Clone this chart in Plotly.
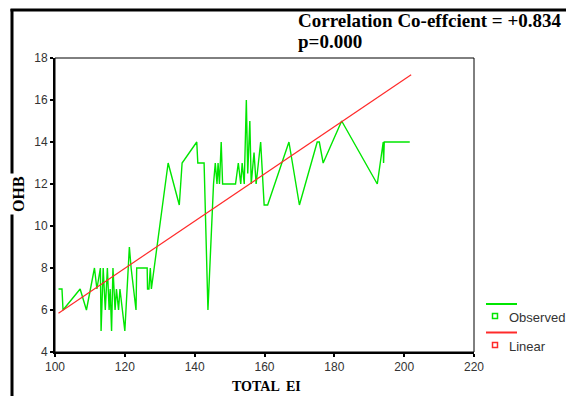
import plotly.graph_objects as go

# Observed series (TOTAL EI vs OHB)
total_ei = [101, 102, 102.3, 107.2, 109, 111.3, 112, 113, 113.2, 113.8, 114.4, 115, 115.5,
            115.8, 116.2, 116.6, 117.2, 117.6, 118.2, 118.6, 120, 121.3, 121.8, 123.2, 123.4,
            126.4, 126.5, 126.9, 127.3, 127.6, 132.4, 135.6, 136.4, 140.6, 140.9, 142.7, 143.8,
            145.4, 145.9, 146.4, 146.7, 147.1, 147.6, 148, 151.7, 152.5, 153.2, 153.6, 154.2,
            154.8, 155.2, 155.8, 156.2, 157, 157.6, 158.9, 159.9, 160.9, 167, 170, 175.1,
            175.7, 176.8, 182.1, 192.3, 194, 194.1, 194.3, 201.6]
ohb = [7, 7, 6, 7, 6, 8, 7, 8, 5, 8, 6, 8, 6,
       7, 5, 8, 6, 7, 6, 7, 5, 9, 8, 6, 8,
       8, 7, 7, 8, 7, 13, 11, 13, 14, 13, 13, 6,
       12, 13, 12, 13, 12, 14, 12, 12, 13, 12, 13, 12,
       16, 12.5, 15, 12, 13.5, 12, 14, 11, 11, 14, 11, 14,
       14, 13, 15, 12, 14, 13, 14, 14]

# Linear fit line end points
linear_x = [101, 202]
linear_y = [5.85, 17.2]

x_ticks = [100, 120, 140, 160, 180, 200, 220]
y_ticks = [4, 6, 8, 10, 12, 14, 16, 18]

GREEN = "#00e600"
RED = "#ff2a2a"

fig = go.Figure()
fig.add_trace(go.Scatter(x=total_ei, y=ohb, mode="lines", name="Observed",
                         line=dict(color=GREEN, width=1.4), showlegend=False))
fig.add_trace(go.Scatter(x=linear_x, y=linear_y, mode="lines", name="Linear",
                         line=dict(color=RED, width=1.2), showlegend=False))

# page has an 8px body margin: figure is shifted by OFF px
OFF = 8
W, H = 574 - OFF, 396 - OFF
L, T = 55 - OFF, 58 - OFF
R = W - (474 - OFF)
B = H - (352 - OFF)
pw, ph = W - L - R, H - T - B


def px(xpix):
    return (xpix - OFF - L) / pw


def py(ypix):
    return (H - B - (ypix - OFF)) / ph


axis_common = dict(showgrid=False, zeroline=False, showline=True, linecolor="black",
                   linewidth=2, ticks="outside", ticklen=3, tickwidth=2, tickcolor="black",
                   tickfont=dict(family="Liberation Sans, Arial", size=12, color="#333333"))

fig.update_layout(
    width=W, height=H,
    margin=dict(l=L, r=R, t=T, b=B),
    paper_bgcolor="white", plot_bgcolor="white",
    xaxis=dict(range=[100, 220], tickvals=x_ticks, **axis_common),
    yaxis=dict(range=[4, 18], tickvals=y_ticks, **axis_common),
    showlegend=False,
)

shapes = [
    # plot box
    dict(type="rect", xref="paper", yref="paper", x0=0, x1=1, y0=0, y1=1,
         line=dict(color="black", width=1)),
    # outer frame (left and top)
    dict(type="line", xref="paper", yref="paper", x0=px(12), x1=px(12), y0=py(9), y1=py(410),
         line=dict(color="black", width=3)),
    dict(type="line", xref="paper", yref="paper", x0=px(10.5), x1=px(590), y0=py(10), y1=py(10),
         line=dict(color="black", width=3)),
    # legend
    dict(type="line", xref="paper", yref="paper", x0=px(486), x1=px(517), y0=py(304), y1=py(304),
         line=dict(color=GREEN, width=2)),
    dict(type="rect", xref="paper", yref="paper", x0=px(492.5), x1=px(497.5), y0=py(313.5), y1=py(318.5),
         line=dict(color=GREEN, width=1.5)),
    dict(type="line", xref="paper", yref="paper", x0=px(486), x1=px(517), y0=py(332.5), y1=py(332.5),
         line=dict(color=RED, width=2)),
    dict(type="rect", xref="paper", yref="paper", x0=px(492.5), x1=px(497.5), y0=py(342.5), y1=py(347.5),
         line=dict(color=RED, width=1.5)),
]
fig.update_layout(shapes=shapes)

serif = "Liberation Serif, Times New Roman, serif"
annotations = [
    dict(text="<b>Correlation Co-effcient = +0.834</b>", xref="paper", yref="paper",
         x=px(296), y=py(20), xanchor="left", yanchor="middle", showarrow=False,
         font=dict(family=serif, size=19, color="black")),
    dict(text="<b>p=0.000</b>", xref="paper", yref="paper",
         x=px(296), y=py(42), xanchor="left", yanchor="middle", showarrow=False,
         font=dict(family=serif, size=19, color="black")),
    dict(text="<b>TOTAL  EI</b>", xref="paper", yref="paper",
         x=px(266), y=py(386), xanchor="center", yanchor="middle", showarrow=False,
         font=dict(family=serif, size=14, color="black")),
    dict(text="<b>OHB</b>", xref="paper", yref="paper", textangle=-90,
         x=px(18), y=py(194), xanchor="center", yanchor="middle", showarrow=False,
         bgcolor="white", borderpad=2,
         font=dict(family=serif, size=16, color="black")),
    dict(text="Observed", xref="paper", yref="paper",
         x=px(507), y=py(317), xanchor="left", yanchor="middle", showarrow=False,
         font=dict(family="Liberation Sans, Arial", size=13, color="#333333")),
    dict(text="Linear", xref="paper", yref="paper",
         x=px(507), y=py(346), xanchor="left", yanchor="middle", showarrow=False,
         font=dict(family="Liberation Sans, Arial", size=13, color="#333333")),
]
fig.update_layout(annotations=annotations)

fig.write_html("out.html")
